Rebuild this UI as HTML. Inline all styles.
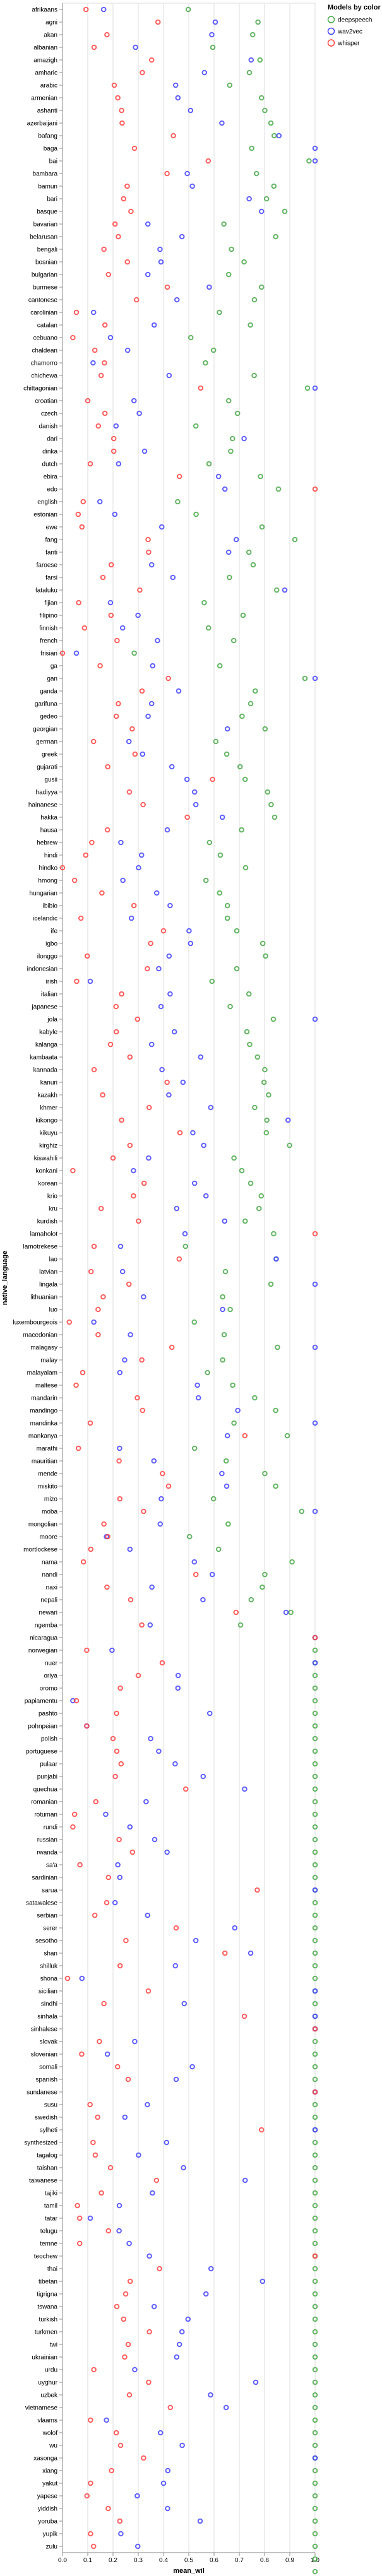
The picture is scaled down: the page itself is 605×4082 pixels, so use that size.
<!DOCTYPE html>
<html><head><meta charset="utf-8">
<style>
html,body{margin:0;padding:0;background:#fff;}
svg{display:block;font-family:"Liberation Sans",Arial,sans-serif;}
</style></head>
<body>
<svg id="chart" width="605" height="4082" xmlns="http://www.w3.org/2000/svg">
  <g id="grid"></g>
  <g id="yaxis"></g>
  <g id="xaxis"></g>
  <g id="marks"></g>
  <text transform="translate(11,2025) rotate(-90)" text-anchor="middle" font-size="11" font-weight="bold" fill="#000">native_language</text>
  <text x="299" y="4077" text-anchor="middle" font-size="11" font-weight="bold" fill="#000">mean_wil</text>
  <g>
    <text x="519" y="15" font-size="11" font-weight="bold" fill="#000">Models by color</text>
    <g><circle cx="524.5" cy="31" r="5" fill="none" stroke="#4aa84a" stroke-width="1.5"/><text x="535" y="34.5" font-size="10" fill="#000">deepspeech</text></g>
    <g><circle cx="524.5" cy="49.5" r="5" fill="none" stroke="#4444ff" stroke-width="1.5"/><text x="535" y="53" font-size="10" fill="#000">wav2vec</text></g>
    <g><circle cx="524.5" cy="68" r="5" fill="none" stroke="#ff4444" stroke-width="1.5"/><text x="535" y="71.5" font-size="10" fill="#000">whisper</text></g>
  </g>
</svg>
<script>
const languages = ["afrikaans","agni","akan","albanian","amazigh","amharic","arabic","armenian","ashanti","azerbaijani","bafang","baga","bai","bambara","bamun","bari","basque","bavarian","belarusan","bengali","bosnian","bulgarian","burmese","cantonese","carolinian","catalan","cebuano","chaldean","chamorro","chichewa","chittagonian","croatian","czech","danish","dari","dinka","dutch","ebira","edo","english","estonian","ewe","fang","fanti","faroese","farsi","fataluku","fijian","filipino","finnish","french","frisian","ga","gan","ganda","garifuna","gedeo","georgian","german","greek","gujarati","gusii","hadiyya","hainanese","hakka","hausa","hebrew","hindi","hindko","hmong","hungarian","ibibio","icelandic","ife","igbo","ilonggo","indonesian","irish","italian","japanese","jola","kabyle","kalanga","kambaata","kannada","kanuri","kazakh","khmer","kikongo","kikuyu","kirghiz","kiswahili","konkani","korean","krio","kru","kurdish","lamaholot","lamotrekese","lao","latvian","lingala","lithuanian","luo","luxembourgeois","macedonian","malagasy","malay","malayalam","maltese","mandarin","mandingo","mandinka","mankanya","marathi","mauritian","mende","miskito","mizo","moba","mongolian","moore","mortlockese","nama","nandi","naxi","nepali","newari","ngemba","nicaragua","norwegian","nuer","oriya","oromo","papiamentu","pashto","pohnpeian","polish","portuguese","pulaar","punjabi","quechua","romanian","rotuman","rundi","russian","rwanda","sa'a","sardinian","sarua","satawalese","serbian","serer","sesotho","shan","shilluk","shona","sicilian","sindhi","sinhala","sinhalese","slovak","slovenian","somali","spanish","sundanese","susu","swedish","sylheti","synthesized","tagalog","taishan","taiwanese","tajiki","tamil","tatar","telugu","temne","teochew","thai","tibetan","tigrigna","tswana","turkish","turkmen","twi","ukrainian","urdu","uyghur","uzbek","vietnamese","vlaams","wolof","wu","xasonga","xiang","yakut","yapese","yiddish","yoruba","yupik","zulu"];
const deepspeech = [.498,.774,.753,.595,.782,.740,.662,.788,.801,.825,.838,.749,.976,.768,.837,.808,.88,.639,.844,.669,.719,.658,.788,.76,.621,.744,.508,.598,.566,.759,.97,.658,.693,.528,.673,.666,.58,.784,.855,.456,.529,.79,.92,.738,.755,.661,.848,.561,.715,.578,.678,.284,.623,.96,.763,.745,.711,.802,.607,.65,.703,.723,.812,.826,.84,.709,.582,.625,.725,.568,.622,.653,.653,.69,.793,.804,.69,.592,.738,.664,.835,.73,.741,.772,.801,.798,.816,.761,.809,.807,.899,.679,.71,.745,.787,.778,.723,.836,.487,.846,.645,.825,.634,.664,.522,.64,.851,.634,.574,.674,.761,.844,.679,.89,.523,.648,.801,.844,.598,.947,.656,.503,.618,.909,.801,.791,.747,.904,.705,1,1,1,1,1,1,1,1,1,1,1,1,1,1,1,1,1,1,1,1,1,1,1,1,1,1,1,1,1,1,1,1,1,1,1,1,1,1,1,1,1,1,1,1,1,1,1,1,1,1,1,1,1,1,1,1,1,1,1,1,1,1,1,1,1,1,1,1,1,1,1,1,1,1,1,1,1,1];
const wav2vec = [.163,.605,.591,.289,.747,.562,.448,.457,.507,.631,.857,1,1,.494,.514,.739,.788,.338,.473,.386,.39,.338,.581,.453,.123,.363,.19,.258,.121,.422,1,.283,.304,.212,.719,.325,.222,.618,.643,.148,.207,.393,.688,.658,.353,.437,.88,.19,.299,.238,.376,.055,.357,1,.46,.353,.339,.653,.263,.317,.433,.493,.523,.528,.633,.415,.231,.313,.301,.239,.373,.426,.273,.501,.507,.422,.381,.11,.426,.39,1,.443,.353,.547,.394,.477,.421,.587,.893,.516,.559,.341,.281,.523,.568,.452,.642,.485,.23,.846,.238,1,.321,.634,.124,.269,1,.246,.227,.534,.538,.694,1,.653,.226,.362,.631,.65,.391,1,.387,.174,.267,.522,.593,.354,.556,.885,.347,1,.196,1,.458,.457,.041,.583,.096,.349,.381,.446,.557,.721,.331,.171,.267,.365,.414,.219,.227,1,.208,.337,.682,.528,.745,.447,.077,1,.482,1,1,.286,.178,.514,.45,1,.336,.247,1,.412,.301,.479,.723,.356,.225,.11,.224,.264,.344,.588,.792,.568,.363,.497,.473,.463,.452,.286,.765,.586,.648,.174,.388,.474,1,.417,.4,.296,.416,.545,.231,.298];
const whisper = [.093,.378,.176,.125,.353,.316,.205,.219,.234,.236,.439,.285,.577,.414,.256,.242,.271,.208,.221,.164,.257,.182,.415,.293,.055,.168,.041,.128,.166,.153,.547,.1,.168,.142,.203,.203,.11,.463,1,.082,.062,.077,.339,.341,.193,.16,.306,.064,.192,.087,.216,0,.149,.419,.315,.221,.213,.276,.123,.287,.179,.594,.265,.319,.494,.178,.116,.092,0,.048,.156,.283,.073,.4,.349,.098,.336,.056,.234,.212,.297,.213,.19,.267,.125,.414,.159,.343,.234,.465,.267,.2,.041,.323,.281,.153,.301,1,.125,.462,.113,.263,.161,.141,.027,.141,.433,.314,.08,.054,.296,.317,.11,.722,.063,.224,.396,.42,.227,.321,.164,.179,.112,.083,.528,.176,.27,.687,.314,1,.096,.395,.3,.229,.055,.214,.096,.2,.215,.232,.209,.488,.132,.048,.041,.224,.277,.069,.182,.771,.175,.128,.45,.251,.643,.228,.02,.34,.164,.72,1,.146,.076,.218,.26,1,.109,.139,.788,.121,.13,.19,.372,.154,.059,.068,.182,.068,1,.384,.268,.25,.215,.242,.344,.26,.246,.124,.341,.265,.427,.111,.213,.23,.321,.194,.111,.097,.181,.227,.111,.123];
const xTicks = [0,0.1,0.2,0.3,0.4,0.5,0.6,0.7,0.8,0.9,1.0];
const series = [["deepspeech", deepspeech, "#4aa84a"], ["wav2vec", wav2vec, "#4444ff"], ["whisper", whisper, "#ff4444"]];

const NS = "http://www.w3.org/2000/svg";
const X0 = 99, X1 = 499, TOP = 5, BAND = 20;
const BOTTOM = TOP + BAND * languages.length;
function xScale(v){ return X0 + (X1 - X0) * v; }
function yScale(i){ return TOP + BAND * i + BAND / 2; }
function mk(tag, attrs, parent){ const e = document.createElementNS(NS, tag); for (const k in attrs) e.setAttribute(k, attrs[k]); parent.appendChild(e); return e; }

const grid = document.getElementById('grid');
const xaxis = document.getElementById('xaxis');
const yaxis = document.getElementById('yaxis');
const marks = document.getElementById('marks');

xTicks.forEach(t => {
  const x = xScale(t);
  if (t > 0) {
    const gl = mk('line', {x1:x, x2:x, y1:TOP, y2:BOTTOM, stroke:'#dddddd', 'stroke-width':1}, grid);
    
    
  }
  const tk = mk('line', {x1:x, x2:x, y1:BOTTOM, y2:BOTTOM+5, stroke:'#888', 'stroke-width':1}, xaxis);
  
  
  const lb = mk('text', {x:x, y:BOTTOM+15, 'text-anchor':'middle', 'font-size':10, fill:'#000'}, xaxis);
  lb.textContent = t.toFixed(1);
  
  
});
const topLine = mk('line', {x1:X0, x2:X1, y1:TOP, y2:TOP, stroke:'#dddddd', 'stroke-width':1}, grid);


const xl = mk('line', {x1:X0, x2:X1, y1:BOTTOM, y2:BOTTOM, stroke:'#888', 'stroke-width':1}, xaxis);


const yl = mk('line', {x1:X0, x2:X0, y1:TOP, y2:BOTTOM, stroke:'#888', 'stroke-width':1}, yaxis);



languages.forEach((lang, i) => {
  const y = yScale(i);
  const tk = mk('line', {x1:X0-5, x2:X0, y1:y, y2:y, stroke:'#888', 'stroke-width':1}, yaxis);
  
  
  const lb = mk('text', {x:X0-8, y:y+3.5, 'text-anchor':'end', 'font-size':10, fill:'#000'}, yaxis);
  lb.textContent = lang;
  
  
});

series.forEach(([name, vals, color]) => {
  vals.forEach((v, i) => {
    const c = mk('circle', {cx:xScale(v), cy:yScale(i), r:3.3, fill:'none', stroke:color, 'stroke-width':2, 'stroke-opacity':0.85}, marks);
    
    
  });
});
</script>
</body></html>
